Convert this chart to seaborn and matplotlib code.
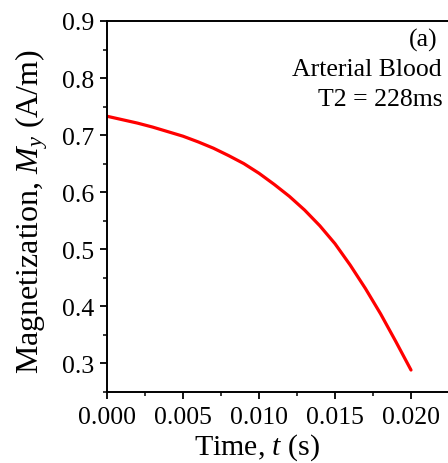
import numpy as np
import pandas as pd
import matplotlib
matplotlib.use("Agg")
import matplotlib.pyplot as plt
import seaborn as sns
from matplotlib.ticker import MultipleLocator

# data (time in s, magnetization in A/m)
time_s = [0.000, 0.001, 0.002, 0.003, 0.004, 0.005, 0.006, 0.007, 0.008, 0.009, 0.010,
          0.011, 0.012, 0.013, 0.014, 0.015, 0.016, 0.017, 0.018, 0.019, 0.020]
my_vals = [0.733, 0.727, 0.721, 0.714, 0.706, 0.698, 0.688, 0.677, 0.664, 0.650, 0.633,
           0.6135, 0.5925, 0.5685, 0.5410, 0.5095, 0.472, 0.431, 0.3865, 0.338, 0.288]
xticks = [0.000, 0.005, 0.010, 0.015, 0.020]
yticks = [0.3, 0.4, 0.5, 0.6, 0.7, 0.8, 0.9]

df = pd.DataFrame({"t": time_s, "My": my_vals})

sns.set_theme(style="ticks")
plt.rcParams["font.family"] = ["Liberation Serif", "DejaVu Serif"]
plt.rcParams["mathtext.fontset"] = "custom"
plt.rcParams["mathtext.rm"] = "Liberation Serif"
plt.rcParams["mathtext.it"] = "Liberation Serif:italic"

fig = plt.figure(figsize=(4.48, 4.64), dpi=100)
ax = fig.add_axes([107/448, 1-392.7/464, (449-107)/448, (392.7-22)/464])

sns.lineplot(data=df, x="t", y="My", ax=ax, color="#ff0000", linewidth=2.3)

ax.set_xlim(0, 0.0225)
ax.set_ylim(0.25, 0.9)
ax.set_xticks(xticks)
ax.set_xticklabels([f"{v:.3f}" for v in xticks])
ax.set_yticks(yticks)
ax.set_yticklabels([f"{v:.1f}" for v in yticks])
ax.xaxis.set_minor_locator(MultipleLocator(0.0025))
ax.yaxis.set_minor_locator(MultipleLocator(0.05))
ax.tick_params(which="major", direction="out", length=5, width=1.3, labelsize=18.5,
               color="black", labelcolor="black")
ax.tick_params(axis="x", which="major", pad=5)
ax.tick_params(axis="y", which="major", pad=4)
ax.tick_params(which="minor", direction="out", length=3, width=1.1, color="black")
ax.tick_params(top=False, right=False, which="both")

for s in ["left", "bottom", "top"]:
    ax.spines[s].set_linewidth(1.4)
    ax.spines[s].set_color("black")
ax.spines["right"].set_visible(False)

ax.set_xlabel("Time, $t$ (s)", fontsize=21.5, color="black")
ax.xaxis.label.set_va("baseline")
ax.xaxis.set_label_coords((257-107)/342, (392.7-455)/370.7)
ax.set_ylabel("Magnetization, $M_y$ (A/m)", fontsize=23, color="black")
ax.yaxis.label.set_va("center")
ax.yaxis.set_label_coords((32-107)/342, (392.7-212)/370.7)

fig.text(437/448, 1-40/464, "(a)", ha="right", va="center", fontsize=18.5, color="black")
fig.text(442/448, 1-70/464, "Arterial Blood", ha="right", va="center", fontsize=18.5, color="black")
fig.text(443/448, 1-100/464, "T2 = 228ms", ha="right", va="center", fontsize=18.5, color="black")

fig.savefig("out.png", dpi=100, facecolor="white")
